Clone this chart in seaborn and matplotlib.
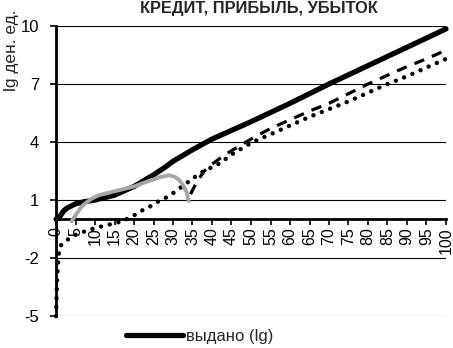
import matplotlib
matplotlib.use("Agg")
import matplotlib.pyplot as plt
import seaborn as sns
from matplotlib.lines import Line2D

# --- data ---
issued_x = [0, 1, 2, 3, 5, 7, 10, 15, 20, 25, 28, 30, 35, 40, 45, 50, 60, 70, 80, 90, 100]
issued_y = [0, 0.15, 0.45, 0.6, 0.8, 0.9, 1.0, 1.25, 1.7, 2.3, 2.7, 3.0, 3.6, 4.15, 4.6, 5.05, 6.0, 7.0, 7.95, 8.9, 9.85]

gray_x = [4, 5, 6, 7, 9, 11, 15, 20, 24, 27, 29, 30.5, 31.5, 32.5, 33.5, 34]
gray_y = [-0.1, 0.2, 0.5, 0.75, 1.05, 1.25, 1.45, 1.7, 2.0, 2.2, 2.28, 2.2, 2.05, 1.8, 1.4, 0.95]

dashed_x = [34.5, 36, 38, 40, 42, 45, 50, 55, 60, 65, 70, 75, 80, 85, 90, 95, 100]
dashed_y = [1.3, 1.9, 2.5, 2.85, 3.15, 3.55, 4.15, 4.7, 5.15, 5.6, 6.0, 6.5, 7.0, 7.45, 7.9, 8.3, 8.75]

dotted_x = [0, 0.3, 0.6, 1, 2, 3, 5, 7, 10, 13, 16, 18, 20, 22, 24, 26, 28, 30, 32, 34, 36,
            38, 40, 42, 45, 50, 55, 60, 65, 70, 75, 80, 85, 90, 95, 100]
dotted_y = [-5, -3, -2, -1.4, -1.2, -1.05, -0.8, -0.65, -0.45, -0.3, -0.15, 0.0, 0.2, 0.45, 0.65,
            0.9, 1.1, 1.35, 1.65, 1.95, 2.25, 2.5, 2.7, 2.9, 3.35, 3.95, 4.4, 4.85, 5.3, 5.7,
            6.1, 6.55, 7.0, 7.4, 7.85, 8.3]

x_ticks = list(range(0, 101, 5))
y_ticks = [-5, -2, 1, 4, 7, 10]
y_tick_labels = ["-5", "-2", "1", "4", "7", "10"]

title = "КРЕДИТ, ПРИБЫЛЬ, УБЫТОК"
ylabel = "lg ден. ед."
legend_label = "выдано (lg)"

sns.set_style("white")
plt.rcParams['font.family'] = ['Liberation Sans', 'DejaVu Sans']

fig = plt.figure(figsize=(4.53, 3.48), dpi=100)
ax = fig.add_axes([56 / 453, 1 - 316 / 348, 390 / 453, 290 / 348])

sns.lineplot(x=issued_x, y=issued_y, ax=ax, color='black', lw=3.8, sort=False,
             estimator=None, solid_capstyle='round', zorder=3)
sns.lineplot(x=dashed_x, y=dashed_y, ax=ax, color='black', lw=2.3, sort=False,
             estimator=None, linestyle=(0, (3.3, 2.6)), dash_capstyle='butt', zorder=3)
sns.lineplot(x=dotted_x, y=dotted_y, ax=ax, color='black', lw=3.2, sort=False,
             estimator=None, linestyle=(0, (0.01, 2.0)), dash_capstyle='round', zorder=3)
sns.lineplot(x=gray_x, y=gray_y, ax=ax, color='#a6a6a6', lw=2.8, sort=False,
             estimator=None, solid_capstyle='round', zorder=4)

ax.set_xlim(0, 100)
ax.set_ylim(-5, 10)
ax.set_xticks(x_ticks)
ax.set_xticklabels([str(v) for v in x_ticks])
ax.set_yticks(y_ticks)
ax.set_yticklabels(y_tick_labels)
ax.set_xlabel("")
ax.set_ylabel("")

ax.spines['bottom'].set_position(('data', 0))
ax.spines['bottom'].set_linewidth(2)
ax.spines['bottom'].set_color('black')
ax.spines['left'].set_linewidth(2)
ax.spines['left'].set_color('black')
ax.spines['top'].set_visible(False)
ax.spines['right'].set_visible(False)

ax.tick_params(axis='x', bottom=True, direction='out', length=4, width=1.2, pad=1.5,
               labelsize=11.5, labelrotation=90, colors='black')
ax.tick_params(axis='y', left=True, direction='out', length=4, width=1.2, pad=8,
               labelsize=12, colors='black')
ax.grid(axis='y', color='black', lw=0.8)
ax.grid(axis='x', visible=False)

for line in ax.lines:
    line.set_clip_on(False)

fig.text(259 / 453, 1 - 1 / 348, title, ha='center', va='top', fontweight='bold', fontsize=11.8)
fig.text(12 / 453, 1 - 50 / 348, ylabel, rotation=90, ha='center', va='center', fontsize=12.5)

fig.legend(handles=[Line2D([], [], color='black', lw=3.8, solid_capstyle='round')],
           labels=[legend_label], loc='center left',
           bbox_to_anchor=(126 / 453, 1 - 336 / 348), frameon=False, handlelength=3.4,
           fontsize=12, borderpad=0, handletextpad=0.2, borderaxespad=0)

fig.savefig('out.png', dpi=100)
